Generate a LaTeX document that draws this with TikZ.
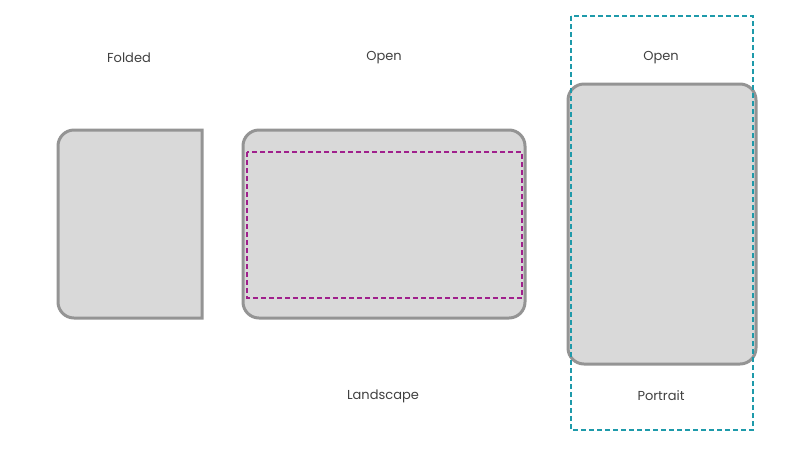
\documentclass[tikz,border=0pt]{standalone}
\usepackage{fontspec}
\setmainfont{Poppins}
\definecolor{fillg}{HTML}{D9D9D9}
\definecolor{edgeg}{HTML}{949494}
\definecolor{mag}{HTML}{A0208C}
\definecolor{teal}{HTML}{1E9AAA}
\begin{document}
\begin{tikzpicture}[x=1pt,y=-1pt,
  dev/.style={fill=fillg,draw=edgeg,line width=3pt},
  lbl/.style={font=\fontsize{13}{15}\selectfont,text=black!75},
  dsh/.style={line width=1.2pt,dash pattern=on 5pt off 3pt}]
\useasboundingbox (0,0) rectangle (800,448);
% folded
\draw[dev] (202,130) -- (130,130) [rounded corners=16pt] -- (58,130) -- (58,318) [sharp corners] -- (130,318) -- (202,318) -- cycle;
% landscape
\draw[dev,rounded corners=16pt] (243,130) rectangle (525,318);
\draw[dsh,draw=mag] (247,152) rectangle (522,298);
% portrait
\draw[dev,rounded corners=16pt] (568,84) rectangle (756,364);
\draw[dsh,draw=teal] (571,16) rectangle (753,430);
\node[lbl] (t1) at (129,58) {Folded};
\node[lbl] (t2) at (384,58) {Open};
\node[lbl] (t3) at (661,58) {Open};
\node[lbl] (t4) at (383,396) {Landscape};
\node[lbl] (t5) at (661,396) {Portrait};
\end{tikzpicture}
\end{document}
